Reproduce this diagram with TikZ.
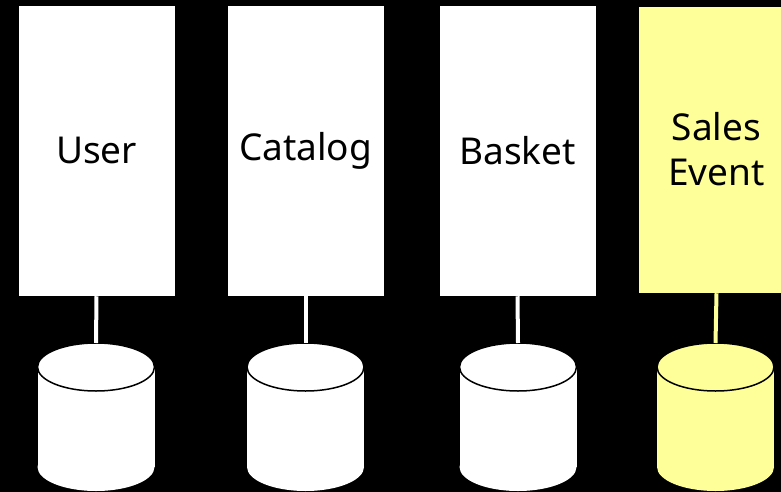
\documentclass[tikz,border=0pt]{standalone}
\usepackage{fontspec}
\setmainfont{Noto Sans}
\begin{document}
\begin{tikzpicture}[x=1pt,y=-1pt,
  svc/.style={draw=black,line width=0.5pt,minimum width=157pt,minimum height=291pt,inner sep=0pt,align=center,font=\fontsize{37}{45}\selectfont,text=black},
  link/.style={line width=4pt},
]
\useasboundingbox[fill=black] (0,0) rectangle (781,492);
\definecolor{paleyellow}{HTML}{FFFF99}
\node[svc,fill=white] (u) at (96.5,150.5) {User};
\node[svc,fill=white] (c) at (305.5,150.5) {Catalog};
\node[svc,fill=white] (b) at (517.5,150.5) {Basket};
\node[svc,fill=paleyellow,minimum height=287pt] (s) at (716.5,149.5) {Sales\\Event};
\foreach \n/\cx/\col in {u/96/white,c/305.5/white,b/518/white,s/715.5/paleyellow}{
  \fill[\col] (\cx,467) ellipse (58.5 and 24);
  \fill[\col] (\cx-58.5,367) rectangle (\cx+58.5,467);
  \fill[\col] (\cx,367) ellipse (58.5 and 24);
  \draw[black,line width=1.5pt] (\cx,367) ellipse (58.5 and 24);
  \coordinate (\n db) at (\cx,343);
  \draw[link,draw=\col] (\n.south) -- (\n db);
}
\end{tikzpicture}
\end{document}
